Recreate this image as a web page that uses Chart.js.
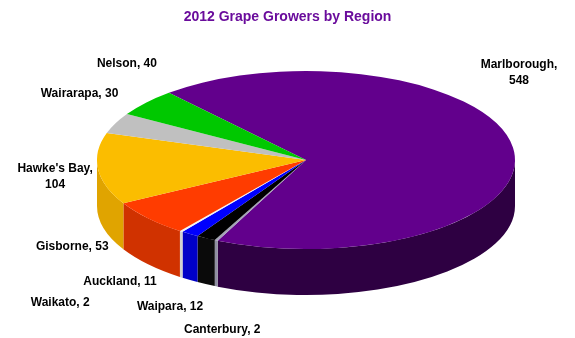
<!DOCTYPE html>
<html>
<head>
<meta charset="utf-8">
<script src="https://cdn.jsdelivr.net/npm/chart.js@4.4.1/dist/chart.umd.min.js"></script>
<style>
  html, body { margin: 0; padding: 0; background: #fff; }
  #wrap { width: 575px; height: 338px; position: relative; }
</style>
</head>
<body>
<div id="wrap"><canvas id="pie"></canvas></div>
<script>
// 2012 grape growers, clockwise from Marlborough
const regions = ['Marlborough', 'Canterbury', 'Waipara', 'Auckland', 'Waikato', 'Gisborne', "Hawke's Bay", 'Wairarapa', 'Nelson'];
const growers = [548, 2, 12, 11, 2, 53, 104, 30, 40];

const topColors = ['#62008c', '#a4a4b6', '#000000', '#0000ff', '#f2f2f2', '#ff3c00', '#fbbd00', '#c0c0c0', '#00c800'];
const sideColors = ['#2e0042', '#8e8ea0', '#0a0a0a', '#0000c8', '#d0d0d0', '#d03200', '#e0a400', '#a0a0a0', '#00a000'];

// where the squashed pie sits on the page
const CX = 306, CY = 160, RX = 209, RY = 89, DEPTH = 46;

// label nudges from the rim point at each slice's middle
const labelNudge = {
  'Marlborough': [6, -75],
  'Canterbury': [6, 43],
  'Waipara': [-36, 23],
  'Auckland': [-70, 2],
  'Waikato': [-121, 25],
  'Gisborne': [-76, -18],
  "Hawke's Bay": [-43, -38],
  'Wairarapa': [-36, -30],
  'Nelson': [-19, -39]
};
const twoLine = { 'Marlborough': true, "Hawke's Bay": true };

const FONT = '"Liberation Sans", Arial, sans-serif';

function frontParts(a1, a2) {
  // pieces of [a1,a2] that face the viewer (sin > 0)
  let parts = [];
  for (let k = -2; k <= 2; k++) {
    const lo = Math.max(a1, 2 * Math.PI * k);
    const hi = Math.min(a2, 2 * Math.PI * k + Math.PI);
    if (hi > lo) parts.push([lo, hi]);
  }
  return parts;
}

const pie3d = {
  id: 'pie3d',
  beforeDatasetsDraw(chart) {
    const ctx = chart.ctx;
    const arcs = chart.getDatasetMeta(0).data;
    ctx.save();
    // side walls
    arcs.forEach((arc, i) => {
      const p = arc.getProps(['startAngle', 'endAngle']);
      frontParts(p.startAngle, p.endAngle).forEach(([lo, hi]) => {
        ctx.beginPath();
        ctx.ellipse(CX, CY, RX, RY, 0, lo, hi, false);
        ctx.ellipse(CX, CY + DEPTH, RX, RY, 0, hi, lo, true);
        ctx.closePath();
        ctx.fillStyle = sideColors[i];
        ctx.fill();
      });
    });
    // squash the pie into an ellipse for the top face
    const a0 = arcs[0].getProps(['x', 'y', 'outerRadius']);
    ctx.translate(CX, CY);
    ctx.scale(RX / a0.outerRadius, RY / a0.outerRadius);
    ctx.translate(-a0.x, -a0.y);
  },
  afterDatasetsDraw(chart) {
    chart.ctx.restore();
  },
  afterDraw(chart) {
    const ctx = chart.ctx;
    const arcs = chart.getDatasetMeta(0).data;
    ctx.save();
    ctx.font = 'bold 12px ' + FONT;
    ctx.fillStyle = '#000';
    ctx.textAlign = 'center';
    ctx.textBaseline = 'middle';
    arcs.forEach((arc, i) => {
      const p = arc.getProps(['startAngle', 'endAngle']);
      const mid = (p.startAngle + p.endAngle) / 2;
      const s = Math.sin(mid);
      let x = CX + RX * Math.cos(mid);
      let y = CY + RY * s + (s > 0 ? DEPTH : 0);
      const n = labelNudge[regions[i]];
      x += n[0];
      y += n[1];
      if (twoLine[regions[i]]) {
        ctx.fillText(regions[i] + ',', x, y - 8);
        ctx.fillText(String(growers[i]), x, y + 8);
      } else {
        ctx.fillText(regions[i] + ', ' + growers[i], x, y);
      }
    });
    ctx.restore();
  }
};

new Chart(document.getElementById('pie'), {
  type: 'pie',
  data: {
    labels: regions,
    datasets: [{
      data: growers,
      backgroundColor: topColors,
      borderWidth: 0
    }]
  },
  options: {
    responsive: true,
    maintainAspectRatio: false,
    animation: false,
    rotation: -41,
    events: [],
    layout: { padding: { top: 0, bottom: 10 } },
    plugins: {
      legend: { display: false },
      tooltip: { enabled: false },
      title: {
        display: true,
        text: '2012 Grape Growers by Region',
        color: '#6a0c9c',
        font: { family: FONT, size: 14, weight: 'bold' },
        padding: { top: 9, bottom: 10 }
      }
    }
  },
  plugins: [pie3d]
});
</script>
</body>
</html>
